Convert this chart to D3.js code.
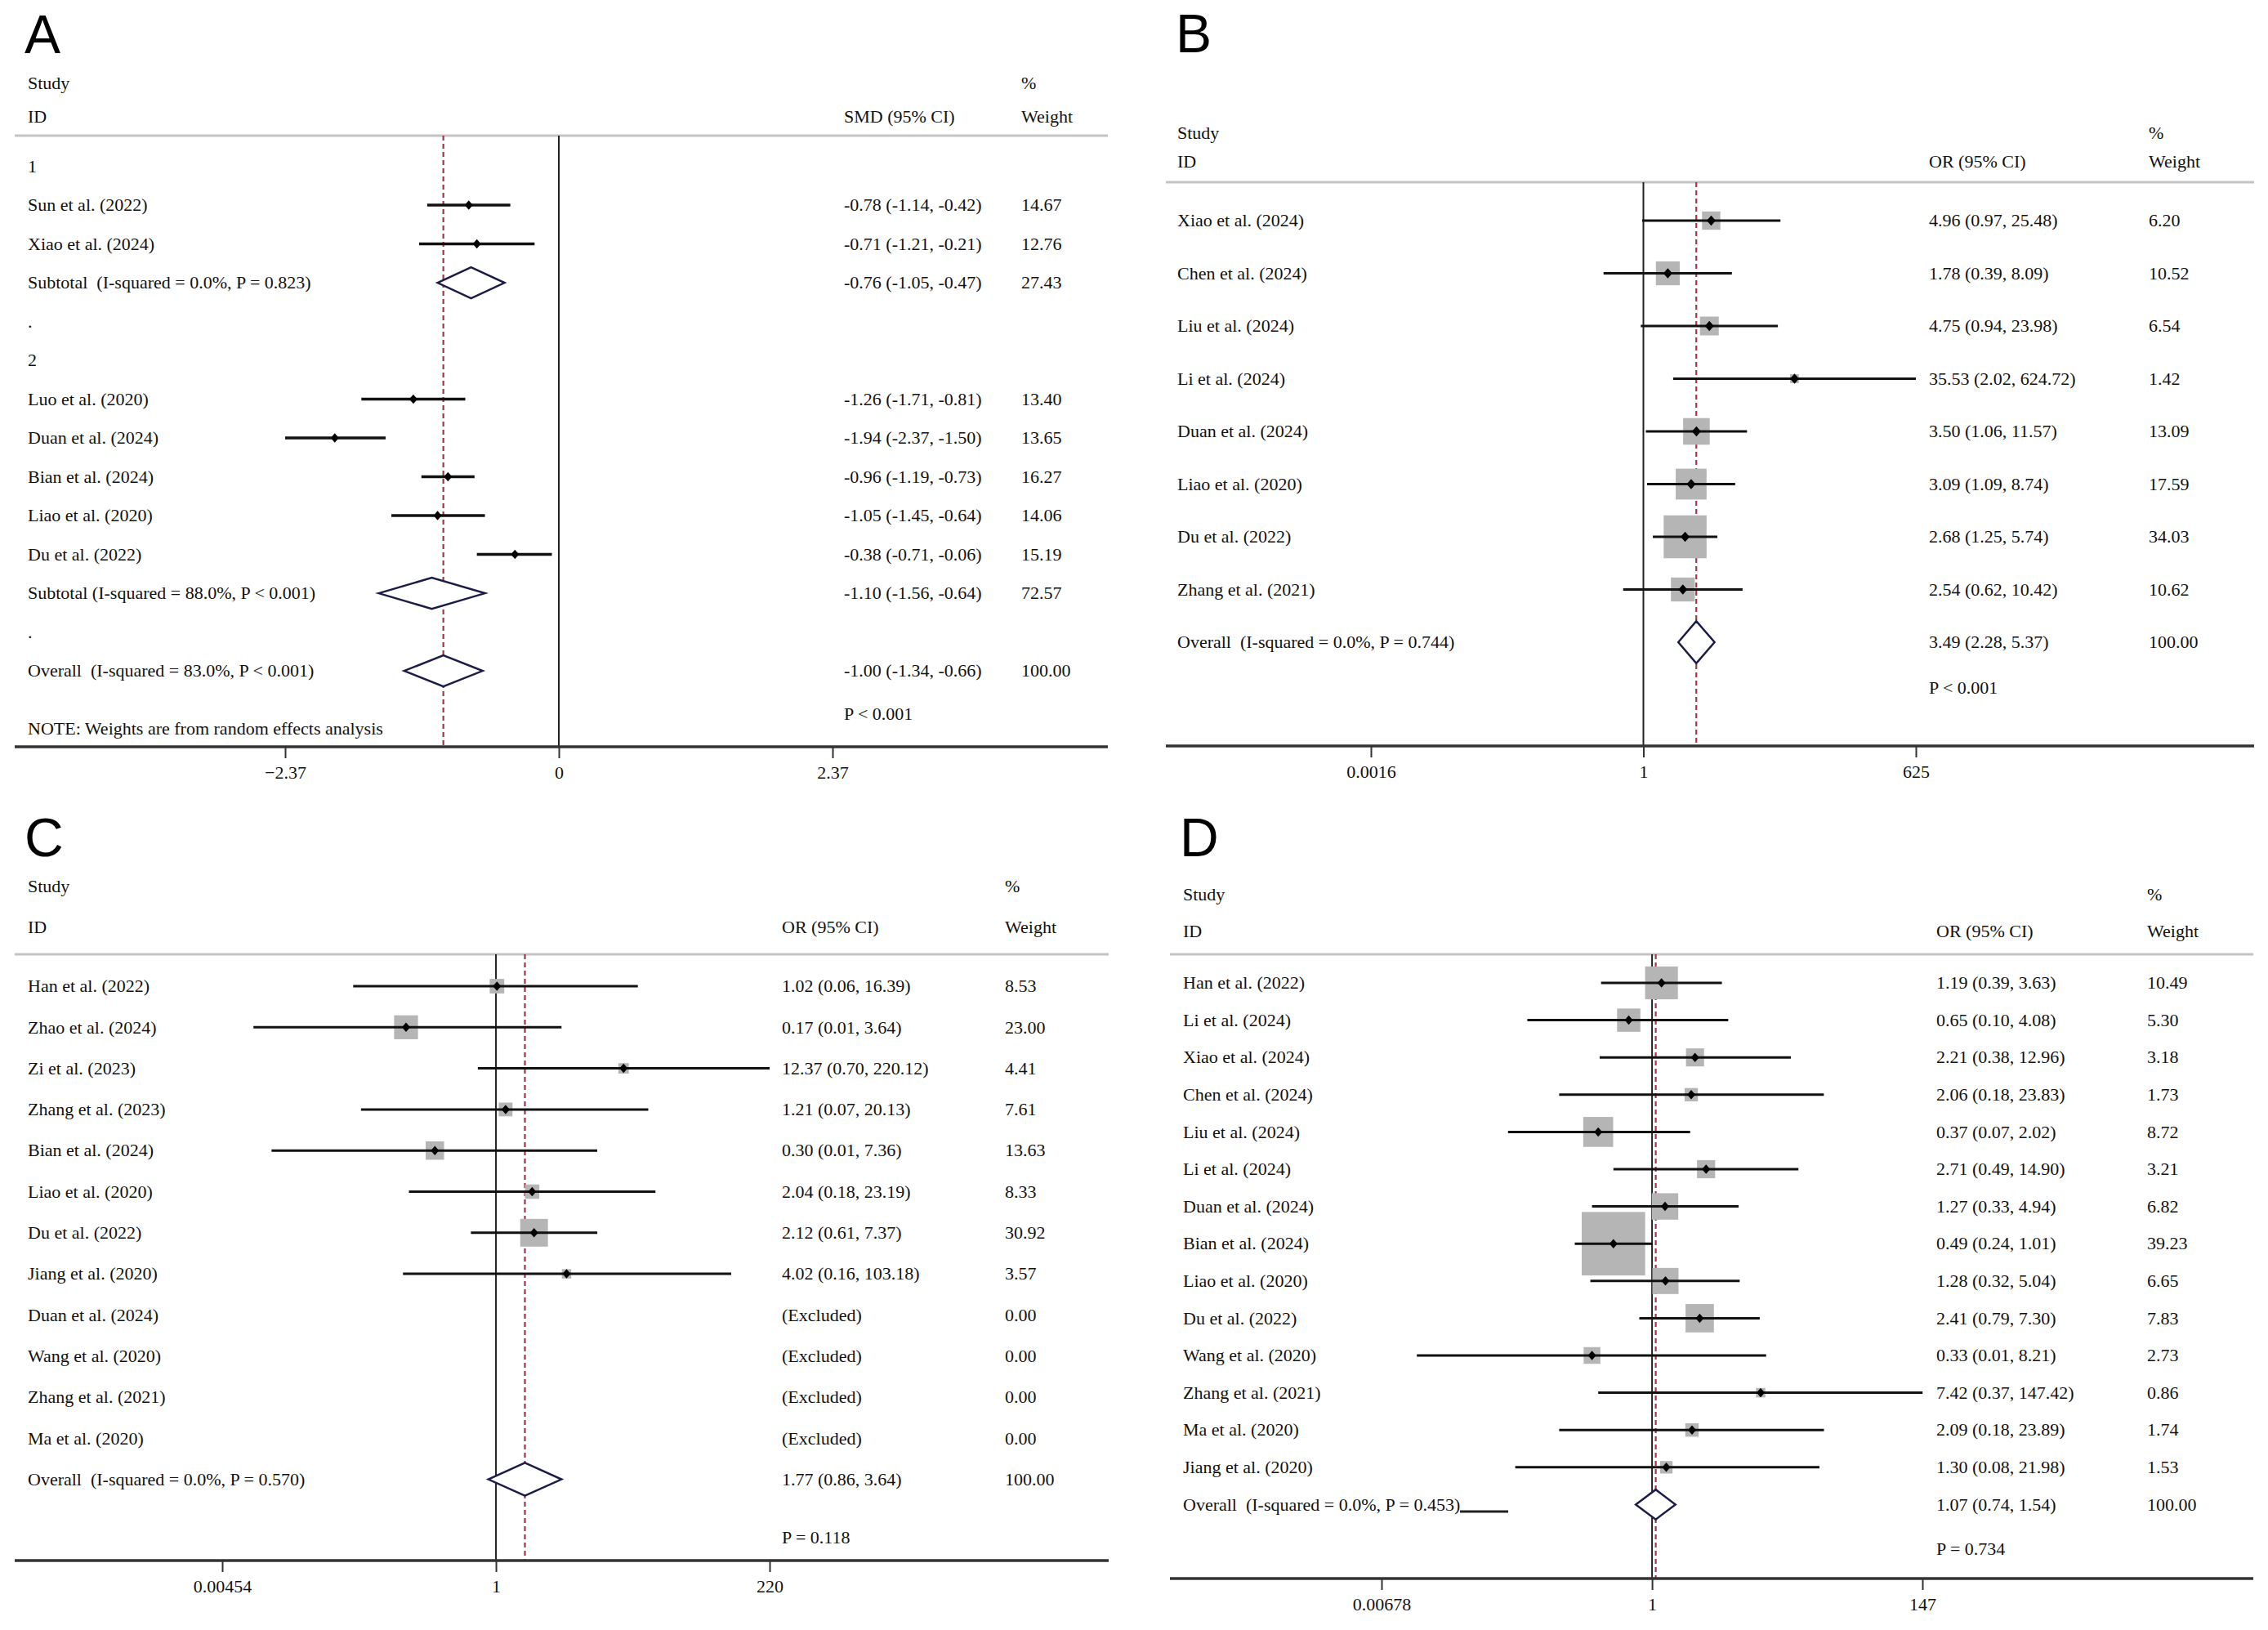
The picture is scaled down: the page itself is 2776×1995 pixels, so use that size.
<!DOCTYPE html>
<html>
<head>
<meta charset="utf-8">
<script src="https://cdn.jsdelivr.net/npm/d3@7"></script>
<style>
  html, body { margin: 0; padding: 0; background: #fff; }
  svg text { white-space: pre; }
</style>
</head>
<body>
<div id="chart"></div>
<script>
// ---- panel A : SMD, two subgroups ----
const studiesA = ["Sun et al. (2022)", "Xiao et al. (2024)", "Luo et al. (2020)", "Duan et al. (2024)",
                  "Bian et al. (2024)", "Liao et al. (2020)", "Du et al. (2022)"];
const groupsA  = [1, 1, 2, 2, 2, 2, 2];
const smdA     = [-0.78, -0.71, -1.26, -1.94, -0.96, -1.05, -0.38];
const loA      = [-1.14, -1.21, -1.71, -2.37, -1.19, -1.45, -0.71];
const hiA      = [-0.42, -0.21, -0.81, -1.50, -0.73, -0.64, -0.06];
const weightA  = [14.67, 12.76, 13.40, 13.65, 16.27, 14.06, 15.19];
const subLabelsA = ["Subtotal  (I-squared = 0.0%, P = 0.823)", "Subtotal (I-squared = 88.0%, P < 0.001)"];
const subEstA    = [-0.76, -1.10];
const subLoA     = [-1.05, -1.56];
const subHiA     = [-0.47, -0.64];
const subWeightA = [27.43, 72.57];
const overallA   = [-1.00, -1.34, -0.66, 100.00];   // est, lo, hi, weight
const overallLabelA = "Overall  (I-squared = 83.0%, P < 0.001)";
const ticksA      = [-2.37, 0, 2.37];
const tickLabelsA = ["\u22122.37", "0", "2.37"];

// ---- panel B ----
const studiesB = ["Xiao et al. (2024)", "Chen et al. (2024)", "Liu et al. (2024)", "Li et al. (2024)",
                  "Duan et al. (2024)", "Liao et al. (2020)", "Du et al. (2022)", "Zhang et al. (2021)"];
const orB     = [4.96, 1.78, 4.75, 35.53, 3.50, 3.09, 2.68, 2.54];
const loB     = [0.97, 0.39, 0.94, 2.02, 1.06, 1.09, 1.25, 0.62];
const hiB     = [25.48, 8.09, 23.98, 624.72, 11.57, 8.74, 5.74, 10.42];
const weightB = [6.20, 10.52, 6.54, 1.42, 13.09, 17.59, 34.03, 10.62];
const overallB = [3.49, 2.28, 5.37, 100.00];
const overallLabelB = "Overall  (I-squared = 0.0%, P = 0.744)";
const ticksB      = [0.0016, 1, 625];
const tickLabelsB = ["0.0016", "1", "625"];

// ---- panel C (null = excluded study) ----
const studiesC = ["Han et al. (2022)", "Zhao et al. (2024)", "Zi et al. (2023)", "Zhang et al. (2023)",
                  "Bian et al. (2024)", "Liao et al. (2020)", "Du et al. (2022)", "Jiang et al. (2020)",
                  "Duan et al. (2024)", "Wang et al. (2020)", "Zhang et al. (2021)", "Ma et al. (2020)"];
const orC     = [1.02, 0.17, 12.37, 1.21, 0.30, 2.04, 2.12, 4.02, null, null, null, null];
const loC     = [0.06, 0.0084, 0.70, 0.07, 0.012, 0.18, 0.61, 0.16, null, null, null, null];
const hiC     = [16.39, 3.64, 220.12, 20.13, 7.36, 23.19, 7.37, 103.18, null, null, null, null];
const weightC = [8.53, 23.00, 4.41, 7.61, 13.63, 8.33, 30.92, 3.57, 0, 0, 0, 0];
const overallC = [1.77, 0.86, 3.64, 100.00];
const overallLabelC = "Overall  (I-squared = 0.0%, P = 0.570)";
const ticksC      = [0.00454, 1, 220];
const tickLabelsC = ["0.00454", "1", "220"];

// ---- panel D ----
const studiesD = ["Han et al. (2022)", "Li et al. (2024)", "Xiao et al. (2024)", "Chen et al. (2024)",
                  "Liu et al. (2024)", "Li et al. (2024)", "Duan et al. (2024)", "Bian et al. (2024)",
                  "Liao et al. (2020)", "Du et al. (2022)", "Wang et al. (2020)", "Zhang et al. (2021)",
                  "Ma et al. (2020)", "Jiang et al. (2020)"];
const orD     = [1.19, 0.65, 2.21, 2.06, 0.37, 2.71, 1.27, 0.49, 1.28, 2.41, 0.33, 7.42, 2.09, 1.30];
const loD     = [0.39, 0.10, 0.38, 0.18, 0.07, 0.49, 0.33, 0.24, 0.32, 0.79, 0.013, 0.37, 0.18, 0.08];
const hiD     = [3.63, 4.08, 12.96, 23.83, 2.02, 14.90, 4.94, 1.01, 5.04, 7.30, 8.21, 147.42, 23.89, 21.98];
const weightD = [10.49, 5.30, 3.18, 1.73, 8.72, 3.21, 6.82, 39.23, 6.65, 7.83, 2.73, 0.86, 1.74, 1.53];
const overallD = [1.07, 0.74, 1.54, 100.00];
const overallLabelD = "Overall  (I-squared = 0.0%, P = 0.453)";
const ticksD      = [0.00678, 1, 147];
const tickLabelsD = ["0.00678", "1", "147"];

const W = 2776, H = 1995;
const serif = "'Liberation Serif', 'Times New Roman', Times, serif";
const sans = "'Liberation Sans', Arial, Helvetica, sans-serif";
const FS = 22;

const svg = d3.select("#chart").append("svg")
    .attr("width", W).attr("height", H)
    .style("background", "#fff");

const f2 = v => v.toFixed(2);
const ciText = (e, l, h) => f2(e) + " (" + f2(l) + ", " + f2(h) + ")";

// build row tables
function studyRows(names, est, lo, hi, w) {
    return names.map((n, i) => est[i] == null
        ? { type: "excluded", label: n, w: w[i] }
        : { type: "study", label: n, est: est[i], lo: lo[i], hi: hi[i], w: w[i] });
}
function pooledRow(label, o) {
    return { type: "pooled", label: label, est: o[0], lo: o[1], hi: o[2], w: o[3] };
}

let rowsA = [];
[1, 2].forEach((grp, gi) => {
    rowsA.push({ type: "head", label: String(grp) });
    const idx = d3.range(studiesA.length).filter(i => groupsA[i] === grp);
    rowsA = rowsA.concat(studyRows(idx.map(i => studiesA[i]), idx.map(i => smdA[i]),
        idx.map(i => loA[i]), idx.map(i => hiA[i]), idx.map(i => weightA[i])));
    rowsA.push(pooledRow(subLabelsA[gi], [subEstA[gi], subLoA[gi], subHiA[gi], subWeightA[gi]]));
    rowsA.push({ type: "head", label: "." });
});
rowsA.push(pooledRow(overallLabelA, overallA));

const rowsB = studyRows(studiesB, orB, loB, hiB, weightB).concat([pooledRow(overallLabelB, overallB)]);
const rowsC = studyRows(studiesC, orC, loC, hiC, weightC).concat([pooledRow(overallLabelC, overallC)]);
const rowsD = studyRows(studiesD, orD, loD, hiD, weightD).concat([pooledRow(overallLabelD, overallD)]);

const panels = [
    { letter: "A", left: 18, right: 1356, letterY: 65, studyY: 102, idY: 143, ruleY: 166, axisY: 914,
      textX: 34, estX: 1033, wX: 1250, estHeader: "SMD (95% CI)",
      x: d3.scaleLinear().domain([-2.37, 2.37]).range([349, 1019]), nullValue: 0,
      rows: rowsA, row0: 203.6, rowStep: 47.5, boxK: 0, ciW: 3.5, markR: 5,
      overall: overallA, ticks: ticksA, tickLabels: tickLabelsA,
      pText: "P < 0.001", pY: 874, note: "NOTE: Weights are from random effects analysis", noteY: 892 },
    { letter: "B", left: 1427, right: 2759, letterY: 64, studyY: 163, idY: 198, ruleY: 223, axisY: 913,
      textX: 1441, estX: 2361, wX: 2630, estHeader: "OR (95% CI)",
      x: d3.scaleLog().domain([0.0016, 625]).range([1678, 2345]), nullValue: 1,
      rows: rowsB, row0: 270, rowStep: 64.5, boxK: 9.0, ciW: 3, markR: 5.5,
      overall: overallB, ticks: ticksB, tickLabels: tickLabelsB,
      pText: "P < 0.001", pY: 842 },
    { letter: "C", left: 18, right: 1357, letterY: 1048, studyY: 1085, idY: 1135, ruleY: 1168, axisY: 1910,
      textX: 34, estX: 957, wX: 1230, estHeader: "OR (95% CI)",
      x: d3.scaleLog().domain([0.00454, 220]).range([272, 942]), nullValue: 1,
      rows: rowsC, row0: 1207, rowStep: 50.3, boxK: 6.1, ciW: 3, markR: 5,
      overall: overallC, ticks: ticksC, tickLabels: tickLabelsC,
      pText: "P = 0.118", pY: 1882 },
    { letter: "D", left: 1432, right: 2758, letterY: 1048, studyY: 1095, idY: 1140, ruleY: 1168, axisY: 1932,
      textX: 1448, estX: 2370, wX: 2628, estHeader: "OR (95% CI)",
      x: d3.scaleLog().domain([0.00678, 147]).range([1691, 2353]), nullValue: 1,
      rows: rowsD, row0: 1203, rowStep: 45.6, boxK: 12.4, ciW: 3, markR: 5,
      overall: overallD, ticks: ticksD, tickLabels: tickLabelsD,
      pText: "P = 0.734", pY: 1896, stray: [1787, 1846, 1850] }
];

function txt(g, s, x, yc, size, family) {
    return g.append("text")
        .attr("x", x).attr("y", yc + (size || FS) * 0.33)
        .attr("font-family", family || serif)
        .attr("font-size", size || FS)
        .attr("fill", "#111")
        .text(s);
}

function drawPanel(p) {
    const g = svg.append("g").attr("class", "panel-" + p.letter);
    const x = p.x;
    const y = i => p.row0 + i * p.rowStep;
    const dh = p.rowStep * 0.4;   // diamond half height

    g.append("text").text(p.letter)
        .attr("x", p.left + 12).attr("y", p.letterY)
        .attr("font-family", sans).attr("font-size", 66).attr("fill", "#000");

    txt(g, "Study", p.textX, p.studyY);
    txt(g, "ID", p.textX, p.idY);
    txt(g, p.estHeader, p.estX, p.idY);
    txt(g, "%", p.wX, p.studyY);
    txt(g, "Weight", p.wX, p.idY);

    g.append("line")
        .attr("x1", p.left).attr("x2", p.right).attr("y1", p.ruleY).attr("y2", p.ruleY)
        .attr("stroke", "#c4c4c4").attr("stroke-width", 3);

    // reference lines
    g.append("line")
        .attr("x1", x(p.nullValue)).attr("x2", x(p.nullValue))
        .attr("y1", p.ruleY).attr("y2", p.axisY)
        .attr("stroke", "#222").attr("stroke-width", 2);
    g.append("line")
        .attr("x1", x(p.overall[0])).attr("x2", x(p.overall[0]))
        .attr("y1", p.ruleY).attr("y2", p.axisY)
        .attr("stroke", "#a8324a").attr("stroke-width", 2.2)
        .attr("stroke-dasharray", "6,4");

    const studies = p.rows.map((r, i) => Object.assign({ i: i }, r));

    // weight boxes
    if (p.boxK > 0) {
        g.selectAll("rect.box")
            .data(studies.filter(r => r.type === "study"))
            .enter().append("rect").attr("class", "box")
            .attr("x", r => x(r.est) - p.boxK * Math.sqrt(r.w) / 2)
            .attr("y", r => y(r.i) - p.boxK * Math.sqrt(r.w) / 2)
            .attr("width", r => p.boxK * Math.sqrt(r.w))
            .attr("height", r => p.boxK * Math.sqrt(r.w))
            .attr("fill", "#b5b5b5");
    }

    // confidence intervals
    g.selectAll("line.ci")
        .data(studies.filter(r => r.type === "study"))
        .enter().append("line").attr("class", "ci")
        .attr("x1", r => x(r.lo)).attr("x2", r => x(r.hi))
        .attr("y1", r => y(r.i)).attr("y2", r => y(r.i))
        .attr("stroke", "#111").attr("stroke-width", p.ciW);

    // point estimates
    const m = p.markR;
    g.selectAll("path.mark")
        .data(studies.filter(r => r.type === "study"))
        .enter().append("path").attr("class", "mark")
        .attr("d", r => {
            const cx = x(r.est), cy = y(r.i);
            return `M${cx},${cy - m * 1.15}L${cx + m},${cy}L${cx},${cy + m * 1.15}L${cx - m},${cy}Z`;
        })
        .attr("fill", "#000");

    // pooled diamonds
    g.selectAll("path.diamond")
        .data(studies.filter(r => r.type === "pooled"))
        .enter().append("path").attr("class", "diamond")
        .attr("d", r => {
            const cy = y(r.i);
            return `M${x(r.lo)},${cy}L${x(r.est)},${cy - dh}L${x(r.hi)},${cy}L${x(r.est)},${cy + dh}Z`;
        })
        .attr("fill", "#fff").attr("stroke", "#1c1c48").attr("stroke-width", 2.5)
        .attr("stroke-linejoin", "miter");

    // row texts
    studies.forEach(r => {
        txt(g, r.label, p.textX, y(r.i));
        if (r.type === "study" || r.type === "pooled") {
            txt(g, ciText(r.est, r.lo, r.hi), p.estX, y(r.i));
            txt(g, f2(r.w), p.wX, y(r.i));
        } else if (r.type === "excluded") {
            txt(g, "(Excluded)", p.estX, y(r.i));
            txt(g, f2(r.w), p.wX, y(r.i));
        }
    });

    txt(g, p.pText, p.estX, p.pY);
    if (p.note) txt(g, p.note, p.textX, p.noteY);
    if (p.stray) {
        g.append("line")
            .attr("x1", p.stray[0]).attr("x2", p.stray[1])
            .attr("y1", p.stray[2]).attr("y2", p.stray[2])
            .attr("stroke", "#222").attr("stroke-width", 3);
    }

    // x axis
    g.append("line")
        .attr("x1", p.left).attr("x2", p.right).attr("y1", p.axisY).attr("y2", p.axisY)
        .attr("stroke", "#333").attr("stroke-width", 3.5);
    const axis = d3.axisBottom(x)
        .tickValues(p.ticks)
        .tickSize(14)
        .tickPadding(9)
        .tickFormat((d, i) => p.tickLabels[i]);
    const ax = g.append("g")
        .attr("transform", `translate(0,${p.axisY})`)
        .call(axis);
    ax.select(".domain").remove();
    ax.selectAll(".tick line").attr("stroke", "#333").attr("stroke-width", 2);
    ax.selectAll(".tick text")
        .attr("font-family", serif).attr("font-size", FS).attr("fill", "#111");
}

panels.forEach(drawPanel);
</script>
</body>
</html>
